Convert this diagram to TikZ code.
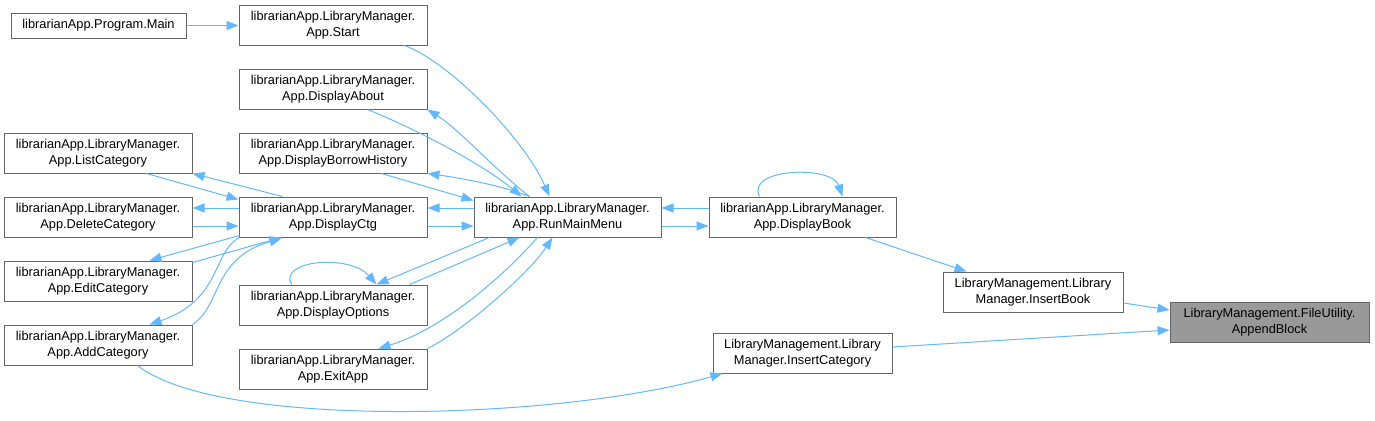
\documentclass[tikz,border=0pt]{standalone}
\usepackage{fontspec}
\setmainfont{Liberation Sans}
\usetikzlibrary{arrows.meta,calc}
\definecolor{edgec}{HTML}{63B8FF}
\definecolor{boxc}{HTML}{666666}
\definecolor{hl}{HTML}{999999}
\begin{document}
\begin{tikzpicture}[x=0.75pt,y=-0.75pt,
  box/.style={draw=boxc,line width=0.75pt,fill=white,inner sep=0pt,minimum height=30pt,align=center,font=\fontsize{9.6pt}{12.3pt}\selectfont},
  wA/.style={minimum width=141pt},
  e/.style={draw=edgec,line width=0.75pt,-{Triangle[length=9pt,width=6.75pt]}}]
\useasboundingbox (0,0) rectangle (1375,421);

\node[box,minimum width=131.25pt,minimum height=18.75pt] (main) at (98.5,25.5) {librarianApp.Program.Main};
\node[box,wA] (start) at (333,25) {librarianApp.LibraryManager.\\App.Start};
\node[box,wA] (about) at (333,89) {librarianApp.LibraryManager.\\App.DisplayAbout};
\node[box,wA] (dbh) at (333,153) {librarianApp.LibraryManager.\\App.DisplayBorrowHistory};
\node[box,wA] (list) at (98,153) {librarianApp.LibraryManager.\\App.ListCategory};
\node[box,wA] (delete) at (98,217) {librarianApp.LibraryManager.\\App.DeleteCategory};
\node[box,wA] (ctg) at (333,217) {librarianApp.LibraryManager.\\App.DisplayCtg};
\node[box,wA] (edit) at (98,281) {librarianApp.LibraryManager.\\App.EditCategory};
\node[box,wA] (options) at (333,305) {librarianApp.LibraryManager.\\App.DisplayOptions};
\node[box,wA] (add) at (98,345) {librarianApp.LibraryManager.\\App.AddCategory};
\node[box,wA] (exit) at (333,369) {librarianApp.LibraryManager.\\App.ExitApp};
\node[box,minimum width=140.25pt] (run) at (567.5,217) {librarianApp.LibraryManager.\\App.RunMainMenu};
\node[box,minimum width=140.25pt] (book) at (802.5,217) {librarianApp.LibraryManager.\\App.DisplayBook};
\node[box,minimum width=135pt] (ib) at (1033,292) {LibraryManagement.Library\\Manager.InsertBook};
\node[box,minimum width=134.25pt] (ic) at (802.5,353) {LibraryManagement.Library\\Manager.InsertCategory};
\node[box,minimum width=149.25pt,fill=hl] (ab) at (1269.5,322) {LibraryManagement.FileUtility.\\AppendBlock};

% edges
\draw[e] (main.east) -- (main.east -| start.west);
\draw[e] ($(start.south west)+(166,0)$) .. controls (450,62) and (525,140) .. ($(run.north west)+(76,0)$);
\draw[e] ($(run.north west)+(56,0)$) .. controls (495,170) and (460,130) .. (about.south east);
\draw[e] ($(about.south west)+(129,0)$) .. controls (430,135) and (490,170) .. ($(run.north west)+(48,0)$);
\draw[e] ($(run.north west)+(56,0)$) .. controls (500,185) and (460,178) .. (dbh.south east);
\draw[e] ($(dbh.south west)+(143,0)$) -- ($(run.north west)+(0,4)$);

\draw[e] ($(ctg.north west)+(44,0)$) -- (list.south east);
\draw[e] ($(list.south west)+(143,0)$) -- ($(ctg.north west)+(0,3)$);
\draw[e] ($(ctg.west)+(0,-9)$) -- ($(delete.east)+(0,-9)$);
\draw[e] ($(delete.east)+(0,9)$) -- ($(ctg.west)+(0,9)$);
\draw[e] ($(ctg.south west)+(1,-2)$) -- ($(edit.north west)+(146,0)$);
\draw[e] ($(edit.north east)+(0,2)$) -- ($(ctg.south west)+(43,0)$);
\draw[e] ($(ctg.south west)+(1,0)$) .. controls (212,252) and (222,300) .. ($(add.north west)+(146,0)$);
\draw[e] ($(add.north east)+(0,0)$) .. controls (222,305) and (212,258) .. ($(ctg.south west)+(43,1)$);

\draw[e] ($(run.west)+(0,-9)$) -- ($(ctg.east)+(0,-9)$);
\draw[e] ($(ctg.east)+(0,9)$) -- ($(run.west)+(0,9)$);
\draw[e] ($(run.south west)+(16,0)$) -- ($(options.north west)+(138,0)$);
\draw[e] ($(options.north west)+(171,0)$) -- ($(run.south west)+(46,0)$);
\draw[e] ($(options.north west)+(53,0)$) .. controls (278,260) and (350,254) .. ($(options.north west)+(138,0)$);
\draw[e] ($(run.south west)+(64,0)$) .. controls (500,280) and (440,330) .. ($(exit.north west)+(140,0)$);
\draw[e] (exit.north east) .. controls (465,330) and (530,272) .. ($(run.south west)+(79,0)$);

\draw[e] ($(run.east)+(0,9)$) -- ($(book.west)+(0,9)$);
\draw[e] ($(book.west)+(0,-9)$) -- ($(run.east)+(0,-9)$);
\draw[e] ($(book.north west)+(51,0)$) .. controls (745,168) and (832,165) .. ($(book.north west)+(134,0)$);
\draw[e] ($(book.south west)+(157,0)$) -- ($(ib.north west)+(24,0)$);
\draw[e] ($(ib.east)+(0,11)$) -- ($(ab.west)+(0,-12)$);
\draw[e] ($(ic.east)+(0,-6)$) -- ($(ab.west)+(0,8)$);
\draw[e] ($(add.south west)+(134,0)$) .. controls (220,430) and (560,420) .. ($(ic.south west)+(10,0)$);
\end{tikzpicture}
\end{document}
